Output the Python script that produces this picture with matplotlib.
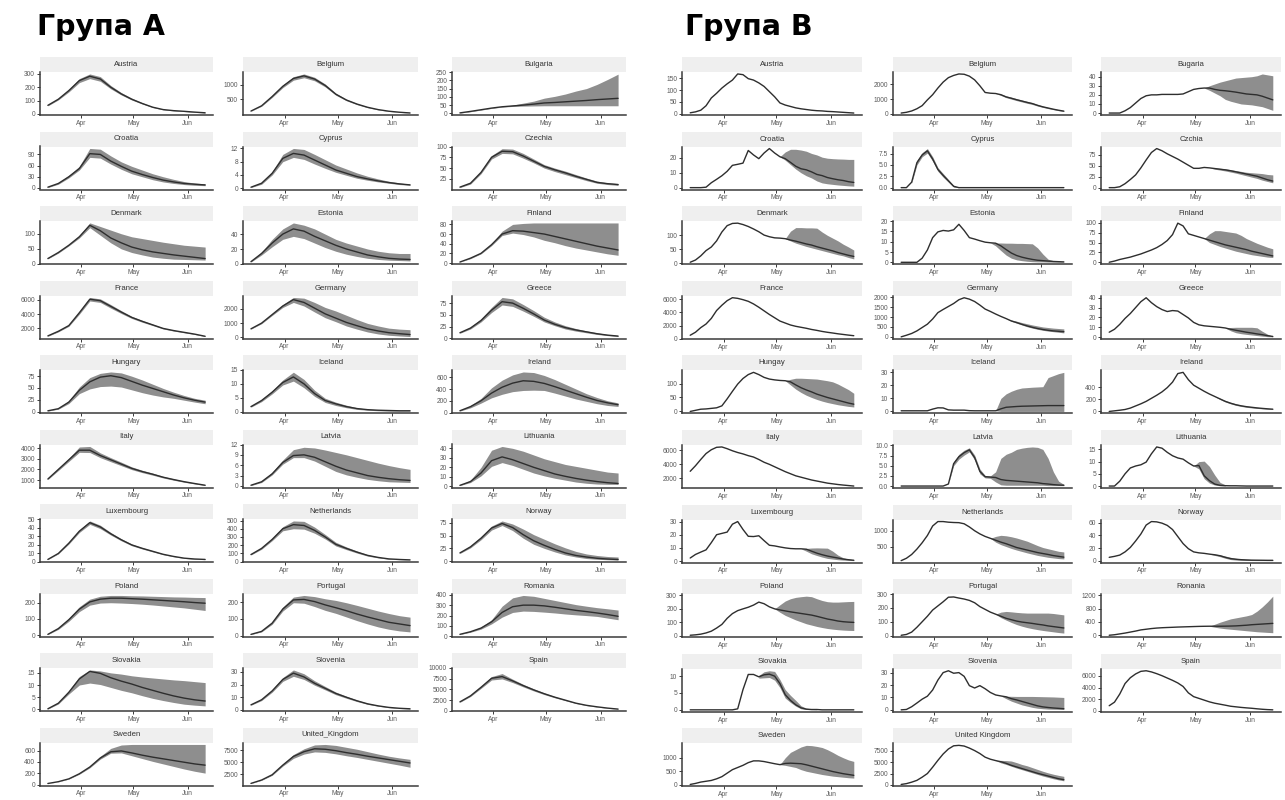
import numpy as np
import matplotlib
matplotlib.use("Agg")
import matplotlib.pyplot as plt
import matplotlib.dates as mdates

nan = float("nan")

# ---------------- Group A (model fits, samples every 6 days from 13 Mar) -------------
A_countries = ["Austria", "Belgium", "Bulgaria", "Croatia", "Cyprus", "Czechia", "Denmark", "Estonia",
               "Finland", "France", "Germany", "Greece", "Hungary", "Iceland", "Ireland", "Italy",
               "Latvia", "Lithuania", "Luxembourg", "Netherlands", "Norway", "Poland", "Portugal",
               "Romania", "Slovakia", "Slovenia", "Spain", "Sweden", "United_Kingdom"]
A_days = list(range(0, 91, 6))

A_mean = [
    [64, 110, 175, 250, 283, 262, 200, 150, 110, 78, 50, 32, 24, 19, 13, 8],
    [100, 280, 600, 950, 1220, 1310, 1200, 980, 680, 480, 340, 230, 150, 95, 60, 35],
    [3, 12, 22, 32, 40, 45, 50, 56, 63, 66, 70, 74, 78, 83, 87, 91],
    [2, 12, 30, 52, 92, 90, 72, 58, 45, 36, 28, 21, 16, 12, 10, 8],
    [0.3, 1.5, 4.5, 9, 10.5, 10, 8.5, 7, 5.5, 4.5, 3.5, 2.8, 2.2, 1.7, 1.3, 1.0],
    [6, 15, 40, 75, 89, 88, 78, 66, 54, 46, 39, 31, 24, 17, 14, 12],
    [18, 38, 62, 90, 128, 110, 86, 70, 56, 47, 40, 35, 30, 26, 22, 18],
    [3, 14, 28, 40, 47, 44, 37, 31, 25, 20, 16, 12, 9.5, 7.5, 6.5, 6],
    [2, 10, 20, 38, 60, 67, 66, 63, 60, 55, 50, 45, 40, 35, 31, 27],
    [950, 1600, 2400, 4200, 6100, 5900, 5100, 4300, 3550, 3000, 2500, 2000, 1700, 1450, 1200, 900],
    [600, 1000, 1600, 2200, 2650, 2450, 2050, 1650, 1350, 1050, 820, 600, 450, 330, 260, 200],
    [12, 22, 38, 60, 78, 75, 64, 52, 39, 30, 23, 18, 14, 10, 7, 5],
    [1.5, 6, 20, 45, 63, 73, 76, 72, 64, 56, 49, 42, 35, 29, 24, 20],
    [1.8, 4, 7, 10.5, 12.5, 10, 6.5, 4, 2.8, 1.8, 1.1, 0.7, 0.5, 0.4, 0.3, 0.3],
    [30, 100, 200, 330, 430, 500, 540, 530, 495, 440, 380, 320, 260, 205, 165, 133],
    [1100, 2000, 2900, 3800, 3800, 3300, 2900, 2500, 2100, 1800, 1550, 1270, 1050, 850, 680, 520],
    [0.2, 1.2, 3.5, 6.8, 8.8, 9, 8.3, 7, 5.7, 4.6, 3.8, 3, 2.5, 2.1, 1.8, 1.6],
    [1, 5, 14, 27, 31, 28, 24, 20, 16.5, 13, 10.5, 8.3, 6.5, 5, 3.8, 3],
    [3, 10, 22, 36, 46, 41, 33, 26, 20, 16, 12.5, 9, 6.5, 4.5, 3.5, 3],
    [85, 160, 270, 400, 450, 440, 380, 300, 210, 160, 115, 75, 50, 32, 25, 20],
    [16, 28, 45, 65, 74, 66, 52, 40, 31, 23, 16, 11, 8, 5.5, 4, 3],
    [4, 40, 95, 160, 205, 222, 228, 228, 225, 222, 218, 214, 210, 206, 201, 197],
    [7, 25, 75, 160, 215, 218, 205, 185, 168, 150, 130, 112, 96, 80, 70, 60],
    [20, 45, 80, 140, 230, 285, 300, 300, 293, 280, 265, 250, 238, 225, 210, 193],
    [0.2, 2.5, 7, 12.5, 15.6, 14.8, 13, 11.6, 10.4, 9, 7.8, 6.6, 5.5, 4.6, 3.9, 3.4],
    [4, 8, 15, 24, 29, 26, 21, 17, 13, 10, 7.2, 4.8, 3.2, 2, 1.3, 0.9],
    [2100, 3500, 5500, 7600, 8000, 7000, 5900, 4900, 4000, 3200, 2500, 1800, 1300, 950, 650, 420],
    [18, 50, 100, 190, 310, 470, 580, 595, 560, 520, 485, 455, 425, 395, 365, 343],
    [600, 1300, 2400, 4400, 6200, 7200, 7800, 7700, 7400, 7000, 6650, 6250, 5900, 5550, 5200, 4850],
]
A_lo = [
    [60, 105, 165, 235, 265, 245, 188, 142, 104, 74, 47, 30, 22, 17, 11, 6],
    [95, 265, 570, 905, 1160, 1245, 1140, 930, 645, 455, 320, 215, 140, 88, 55, 32],
    [2, 10, 20, 30, 38, 42, 44, 45, 46, 46, 46, 46, 46, 46, 46, 46],
    [1, 10, 27, 48, 82, 80, 64, 50, 38, 30, 22, 16, 12, 9, 7, 6],
    [0.2, 1.2, 4, 8, 9.3, 8.7, 7.3, 6, 4.8, 3.9, 3.0, 2.4, 1.9, 1.5, 1.1, 0.9],
    [5, 13, 37, 71, 84, 83, 73, 62, 50, 42, 35, 28, 21, 15, 12, 10],
    [17, 36, 60, 86, 120, 95, 70, 50, 38, 30, 23, 19, 16, 15, 14, 13],
    [2.5, 12, 23, 33, 37, 34, 28, 22, 17, 13, 10, 7.5, 6, 5, 4.5, 4],
    [2, 9, 19, 36, 57, 62, 59, 54, 47, 42, 36, 31, 27, 23, 19, 16],
    [900, 1520, 2300, 4000, 5850, 5650, 4850, 4100, 3400, 2870, 2400, 1920, 1630, 1390, 1150, 860],
    [580, 960, 1540, 2100, 2450, 2200, 1780, 1380, 1100, 800, 580, 380, 240, 150, 100, 60],
    [11, 20, 35, 55, 71, 68, 58, 47, 35, 27, 20, 15.5, 12, 8.5, 6, 4],
    [1, 5, 17, 38, 48, 53, 54, 52, 46, 40, 35, 31, 28, 24, 20, 16.5],
    [1.6, 3.6, 6.4, 9.6, 11, 8.6, 5.5, 3.3, 2.2, 1.4, 0.8, 0.5, 0.3, 0.2, 0.2, 0.2],
    [25, 80, 160, 250, 310, 355, 375, 380, 375, 330, 280, 230, 190, 150, 120, 103],
    [1050, 1900, 2750, 3600, 3580, 3100, 2720, 2350, 1980, 1700, 1460, 1200, 990, 800, 640, 490],
    [0.1, 1, 3.2, 6.3, 8.2, 8.2, 7.2, 5.7, 4.2, 3.2, 2.5, 1.9, 1.5, 1.2, 1.1, 1.0],
    [0.8, 4, 11, 21, 25, 22, 18, 14, 11, 8.5, 6.5, 4.5, 3.2, 2.4, 2.1, 2],
    [2.8, 9.5, 21, 34.5, 44, 39, 31.5, 24.8, 19, 15.2, 11.8, 8.5, 6.1, 4.2, 3.2, 2.8],
    [80, 150, 255, 375, 400, 395, 345, 275, 190, 145, 103, 66, 44, 28, 22, 18],
    [15, 26, 42, 61, 70, 60, 45, 33, 25, 18, 12, 8, 5, 3.5, 2.6, 2],
    [3, 35, 85, 145, 185, 198, 200, 198, 195, 191, 186, 180, 174, 168, 160, 152],
    [6, 22, 68, 148, 198, 195, 175, 152, 134, 112, 90, 70, 52, 38, 28, 22],
    [18, 40, 70, 120, 185, 230, 243, 240, 233, 225, 215, 207, 200, 192, 176, 160],
    [0.1, 2.2, 6.3, 10, 10.8, 10.2, 9, 7.8, 6.8, 5.6, 4.5, 3.6, 2.8, 2.1, 1.7, 1.4],
    [3.7, 7.4, 14, 22.5, 26.5, 24, 19.5, 15.8, 12, 9.2, 6.6, 4.4, 2.9, 1.8, 1.1, 0.7],
    [2000, 3350, 5250, 7200, 7450, 6600, 5600, 4650, 3800, 3050, 2380, 1710, 1230, 900, 610, 390],
    [17, 48, 96, 182, 296, 450, 555, 560, 510, 460, 410, 365, 320, 275, 235, 202],
    [570, 1240, 2280, 4200, 5800, 6700, 7150, 7050, 6750, 6350, 6000, 5600, 5200, 4800, 4400, 3960],
]
A_hi = [
    [68, 115, 185, 265, 300, 280, 213, 160, 118, 84, 54, 35, 27, 21, 15, 10],
    [105, 295, 630, 995, 1280, 1375, 1260, 1030, 715, 505, 360, 245, 160, 102, 65, 38],
    [4, 14, 24, 34, 42, 50, 62, 74, 92, 103, 117, 135, 150, 175, 205, 237],
    [3, 14, 34, 58, 106, 104, 86, 70, 58, 48, 38, 30, 23, 17, 13, 11],
    [0.4, 1.8, 5, 10.2, 12, 11.7, 10.2, 8.6, 7, 5.8, 4.6, 3.6, 2.8, 2.1, 1.6, 1.2],
    [7, 17, 43, 79, 95, 94, 84, 71, 58, 50, 43, 35, 27, 20, 16, 14],
    [19, 40, 64, 94, 136, 124, 112, 100, 90, 84, 78, 72, 67, 62, 59, 56],
    [3.5, 16, 33, 47, 55, 52, 47, 40, 33, 28, 24, 20, 17, 15, 14, 14],
    [2, 11, 21, 40, 66, 80, 82, 83, 83, 83, 83, 83, 83, 83, 83, 83],
    [1000, 1680, 2500, 4400, 6350, 6150, 5350, 4500, 3700, 3130, 2600, 2080, 1770, 1510, 1250, 940],
    [620, 1040, 1660, 2300, 2800, 2750, 2450, 2100, 1850, 1550, 1250, 980, 800, 650, 580, 540],
    [13, 24, 42, 66, 87, 84, 72, 59, 45, 35, 27, 21, 16, 12, 8.5, 6],
    [2, 7, 23, 52, 72, 81, 84, 82, 75, 67, 58, 49, 41, 34, 28, 24],
    [2, 4.4, 7.6, 11.4, 14.2, 11.6, 7.7, 4.8, 3.4, 2.3, 1.4, 0.9, 0.7, 0.6, 0.5, 0.5],
    [35, 120, 240, 420, 550, 640, 690, 680, 630, 560, 480, 400, 320, 255, 200, 164],
    [1150, 2100, 3050, 4100, 4150, 3550, 3100, 2680, 2240, 1920, 1650, 1350, 1120, 910, 730, 560],
    [0.3, 1.4, 4, 7.5, 10.5, 11.2, 11, 10.4, 9.7, 9, 8.2, 7.4, 6.6, 5.9, 5.3, 4.8],
    [1.2, 6.5, 20, 38, 42, 40, 37, 33, 29, 26, 23, 21, 19, 17, 15, 14],
    [3.2, 10.5, 23, 37.5, 48, 43, 34.5, 27.2, 21, 16.8, 13.2, 9.5, 6.9, 4.8, 3.8, 3.2],
    [90, 170, 285, 425, 495, 490, 420, 330, 235, 178, 128, 84, 56, 36, 28, 22],
    [17, 30, 48, 69, 79, 73, 63, 52, 43, 34, 26, 19, 14, 11, 9, 8],
    [5, 45, 105, 175, 222, 240, 245, 245, 243, 242, 240, 238, 236, 235, 233, 232],
    [8, 28, 82, 172, 232, 242, 235, 222, 212, 198, 182, 165, 148, 133, 120, 111],
    [22, 50, 90, 160, 290, 370, 393, 385, 365, 345, 325, 305, 290, 276, 265, 253],
    [0.3, 2.8, 7.7, 13.5, 16.2, 15.8, 15, 14.5, 13.8, 13.3, 12.9, 12.5, 12.1, 11.8, 11.4, 11],
    [4.3, 8.6, 16, 25.5, 31.5, 28.5, 23, 18.5, 14.1, 10.8, 7.8, 5.3, 3.6, 2.3, 1.5, 1.1],
    [2200, 3650, 5750, 8000, 8700, 7400, 6200, 5150, 4200, 3350, 2620, 1890, 1370, 1000, 690, 450],
    [19, 52, 104, 198, 324, 500, 640, 700, 710, 710, 710, 710, 710, 710, 710, 710],
    [630, 1360, 2520, 4600, 6600, 7800, 8600, 8700, 8500, 8100, 7700, 7200, 6700, 6250, 5900, 5600],
]
A_yticks = [
    [0, 100, 200, 300], [500, 1000], [0, 50, 100, 150, 200, 250],
    [0, 30, 60, 90], [0, 4, 8, 12], [25, 50, 75, 100],
    [0, 50, 100], [0, 20, 40], [0, 20, 40, 60, 80],
    [2000, 4000, 6000], [0, 1000, 2000], [0, 25, 50, 75],
    [0, 25, 50, 75], [0, 5, 10, 15], [0, 200, 400, 600],
    [1000, 2000, 3000, 4000], [0, 3, 6, 9, 12], [0, 10, 20, 30, 40],
    [0, 10, 20, 30, 40, 50], [0, 100, 200, 300, 400, 500], [0, 25, 50, 75],
    [0, 100, 200], [0, 100, 200], [0, 100, 200, 300, 400],
    [0, 5, 10, 15], [0, 10, 20, 30], [0, 2500, 5000, 7500, 10000],
    [0, 200, 400, 600], [2500, 5000, 7500],
]

# ---------------- Group B (observed + forecast, samples every 3 days from 13 Mar) -------------
B_countries = ["Austria", "Belgium", "Bugaria", "Croatia", "Cyprus", "Czchia", "Denmark", "Estonia",
               "Finland", "France", "Germany", "Greece", "Hungay", "Iceland", "Ireland", "Italy",
               "Latvia", "Lithuania", "Luxembourg", "Netherlands", "Norway", "Poland", "Portugal",
               "Ronania", "Slovakia", "Slovenia", "Spain", "Sweden", "United Kingdom"]
B_days = list(range(0, 94, 3))

B_mean = [
    [4, 8, 15, 34, 67, 87, 109, 127, 143, 169, 166, 149, 143, 131, 116, 94, 72, 46, 37, 31, 25, 21, 18, 15, 13, 12, 10, 9, 7.5, 6, 4.5, 3],
    [60, 110, 200, 350, 560, 950, 1300, 1750, 2150, 2450, 2600, 2700, 2680, 2550, 2300, 1900, 1450, 1400, 1380, 1300, 1150, 1060, 960, 870, 780, 700, 580, 480, 400, 320, 250, 190],
    [0, 0, 0, 2.5, 6, 11, 16, 19, 20, 20, 20.5, 20.5, 20.5, 20.5, 21, 23.5, 26, 27, 27.5, 27.5, 26, 25, 24.5, 23.8, 23, 22, 21, 20.5, 20, 18.5, 16.5, 14.5],
    [0, 0, 0, 0.3, 3.3, 5.6, 8, 11, 15, 15.7, 16.5, 25, 22, 19.5, 23.3, 26.3, 23.3, 20.8, 19.5, 17, 14.4, 12.7, 12, 10.6, 8.9, 8.1, 6.8, 6, 5.3, 4.8, 4, 3.5],
    [0, 0, 1.2, 5.5, 7.2, 8.1, 6.3, 4, 2.7, 1.5, 0.3, 0, 0, 0, 0, 0, 0, 0, 0, 0, 0, 0, 0, 0, 0, 0, 0, 0, 0, 0, 0, 0],
    [0, 0, 2, 9, 18.5, 29, 45, 63, 80, 89, 84, 77, 71, 65, 58, 51, 44, 44, 46, 45, 43.5, 42, 40.5, 38.5, 36, 33.5, 31, 28.5, 26, 22, 18, 15],
    [3, 11, 26, 45, 58, 80, 112, 135, 143, 144, 139, 132, 123, 113, 101, 95, 91, 90, 88, 83, 79, 74, 69, 65, 59, 54, 49, 44, 38, 33, 28, 24],
    [0, 0, 0, 0, 2, 6, 12, 14.8, 15.5, 15.2, 15.8, 18.5, 15.5, 12, 11.3, 10.5, 9.8, 9.5, 9.3, 8, 6.2, 4.5, 3.3, 2.5, 1.9, 1.4, 1.0, 0.8, 0.6, 0.4, 0.3, 0.2],
    [0, 3, 7, 10, 13, 17, 21, 26, 31, 37, 45, 55, 70, 99, 92, 72, 68, 64, 60, 56, 52, 48, 44, 41, 38, 35, 32, 28, 25, 22, 19, 16],
    [540, 1000, 1700, 2250, 3100, 4300, 5100, 5800, 6250, 6150, 5950, 5700, 5300, 4800, 4250, 3700, 3200, 2700, 2400, 2100, 1900, 1750, 1600, 1420, 1280, 1120, 990, 880, 760, 660, 560, 470],
    [0, 80, 170, 300, 470, 640, 900, 1220, 1380, 1530, 1680, 1870, 1970, 1900, 1780, 1600, 1400, 1280, 1150, 1030, 920, 800, 720, 630, 550, 480, 420, 370, 330, 300, 280, 260],
    [5, 8, 13, 19, 24, 30, 36, 40, 35, 31, 28, 26, 27, 26.5, 23, 19.5, 15, 12.5, 11.5, 11, 10.5, 10, 9.3, 8, 7, 6, 5, 4.2, 3.3, 2.5, 1.5, 0.7],
    [0, 4, 8, 9, 11, 13, 20, 45, 72, 98, 118, 132, 140, 132, 122, 116, 113, 111, 110, 106, 95, 85, 77, 70, 62, 56, 50, 45, 40, 35, 30, 26],
    [0.5, 0.5, 0.5, 0.5, 0.5, 0.5, 1.8, 2.8, 2.7, 1.2, 1, 1, 1, 0.6, 0.5, 0.5, 0.5, 0.5, 0.5, 2, 3.2, 3.5, 3.8, 4, 4.1, 4.2, 4.3, 4.4, 4.5, 4.5, 4.5, 4.5],
    [0, 10, 20, 32, 55, 90, 125, 165, 215, 265, 320, 390, 480, 620, 640, 520, 430, 380, 330, 285, 245, 205, 165, 135, 110, 92, 78, 68, 58, 50, 43, 37],
    [3000, 3800, 4700, 5550, 6100, 6450, 6500, 6250, 5950, 5700, 5500, 5250, 5050, 4700, 4300, 4000, 3650, 3300, 2950, 2650, 2350, 2150, 1950, 1750, 1600, 1450, 1300, 1200, 1100, 1020, 950, 880],
    [0, 0, 0, 0, 0, 0, 0, 0, 0, 0.5, 5.5, 7.2, 8.2, 8.9, 7, 3.6, 2.3, 2.2, 2.1, 1.6, 1.4, 1.3, 1.2, 1.1, 1.0, 0.9, 0.8, 0.6, 0.5, 0.35, 0.25, 0.2],
    [0, 0, 2, 5, 7.4, 8.2, 8.7, 9.8, 13.2, 16, 15.5, 13.8, 12.4, 11.5, 11, 9.5, 8.2, 8.4, 4.2, 2.2, 0.8, 0.3, 0.15, 0.1, 0.1, 0.05, 0, 0, 0, 0, 0, 0],
    [2.3, 5, 6.8, 8.5, 14, 20, 21, 22, 28, 30, 24, 18.8, 18.6, 19.2, 15.5, 12, 11.5, 10.7, 10, 9.5, 9.3, 9.3, 9, 7.5, 6, 4.8, 3.8, 3, 2.3, 1.5, 1, 0.6],
    [55, 130, 250, 420, 620, 850, 1150, 1290, 1290, 1270, 1260, 1255, 1220, 1120, 1000, 900, 820, 760, 700, 640, 590, 530, 470, 430, 390, 350, 310, 280, 250, 215, 190, 165],
    [5.5, 7, 9, 14, 21, 31, 42, 56, 61.5, 61, 59, 55.5, 49, 38, 27, 19, 14, 12.5, 11.7, 10.5, 9.5, 8, 5.5, 3.5, 2.5, 1.8, 1.4, 1.1, 1, 0.9, 0.8, 0.8],
    [5, 8, 13, 22, 35, 58, 85, 130, 165, 187, 200, 212, 228, 250, 238, 215, 200, 192, 185, 178, 172, 166, 160, 154, 145, 135, 125, 118, 110, 105, 102, 100],
    [2, 8, 25, 60, 100, 140, 185, 215, 245, 278, 280, 272, 265, 255, 238, 210, 190, 170, 155, 140, 125, 115, 105, 98, 93, 88, 82, 77, 70, 65, 60, 55],
    [0, 15, 40, 65, 95, 125, 160, 180, 200, 215, 225, 232, 238, 245, 250, 255, 260, 265, 268, 270, 270, 270, 272, 275, 280, 290, 300, 315, 325, 335, 345, 355],
    [0, 0, 0, 0, 0, 0, 0, 0, 0, 0.3, 6, 10.5, 10.5, 9.8, 10.4, 10.6, 10, 7.8, 4.5, 2.8, 1.5, 0.6, 0.2, 0.1, 0.1, 0, 0, 0, 0, 0, 0, 0],
    [0, 0.3, 2.5, 5.5, 8.6, 11, 16, 24, 30, 31.5, 29.5, 30, 27, 19.5, 17.6, 19.5, 17, 14, 12, 11.2, 10.5, 9, 8, 6.8, 5.6, 4.4, 3.2, 2.4, 1.9, 1.5, 1.2, 0.9],
    [890, 1500, 2900, 4700, 5700, 6350, 6800, 6900, 6700, 6400, 6050, 5650, 5250, 4800, 4200, 3100, 2450, 2150, 1850, 1550, 1320, 1150, 980, 800, 700, 600, 520, 450, 360, 280, 220, 180],
    [12, 50, 100, 130, 160, 220, 300, 430, 560, 640, 720, 820, 885, 885, 860, 820, 780, 745, 790, 800, 790, 780, 740, 690, 640, 590, 540, 490, 450, 410, 380, 350],
    [100, 280, 600, 1000, 1700, 2500, 3900, 5400, 6800, 7900, 8600, 8700, 8550, 8100, 7550, 6900, 6100, 5650, 5350, 5100, 4750, 4300, 3950, 3600, 3250, 2900, 2550, 2250, 1950, 1650, 1350, 1150],
]
# forecast band: first day (days after 13 Mar) and lower / upper values every 3 days from there
B_band_start = [None, 54, 54, 51, 6, 57, 54, 51, 54, None, 60, 66, 54, 54, 60, None, 27, 48, 63, 51,
                57, 48, 54, 57, 39, 57, None, 51, 54]
B_lo = [
    [],
    [1380, 1250, 1100, 1000, 900, 810, 720, 640, 530, 440, 360, 290, 220, 165],
    [27.5, 25, 22, 19, 15, 13, 11.5, 10, 9.5, 9, 8, 7, 5, 3],
    [20.8, 18.5, 15.5, 12.5, 10, 8, 6.5, 4.5, 3.2, 2.6, 2.2, 1.8, 1.5, 1.2, 1],
    [1.0, 5.0, 6.8, 7.6, 5.8, 3.6, 2.3, 1.2, 0.1, 0],
    [45, 42, 40, 38, 35.5, 33, 30, 27, 24, 21, 17, 14, 11],
    [88, 80, 72, 66, 60, 55, 50, 45, 40, 35, 30, 26, 20, 15],
    [9.5, 8, 5.7, 3.5, 2, 1.2, 0.8, 0.5, 0.3, 0.2, 0.2, 0.1, 0.1, 0.1, 0.1],
    [60, 50, 45, 40, 36, 32, 28, 25, 22, 19, 17, 15, 13, 12],
    [],
    [920, 780, 690, 600, 510, 440, 380, 330, 290, 260, 230, 200],
    [9.3, 6.5, 4.5, 3.5, 2.8, 2.2, 1.6, 1.0, 0.5, 0.3],
    [110, 95, 80, 68, 58, 50, 43, 37, 32, 28, 24, 21, 18, 16],
    [0.5, 0, 0, 0, 0, 0, 0, 0, 0, 0, 0, 0, 0, 0],
    [245, 195, 155, 125, 100, 82, 68, 58, 50, 43, 37, 32],
    [],
    [0.5, 5.0, 6.6, 7.6, 8.4, 6.4, 3.0, 2.0, 1.9, 1.0, 0.3, 0.2, 0.2, 0.2, 0.2, 0.2, 0.2, 0.2, 0.2, 0.1, 0.1, 0.1, 0.1],
    [8.2, 7, 3, 1.2, 0.4, 0.1, 0.05],
    [9.3, 7.5, 5.5, 4.2, 3, 2, 1.5, 1, 0.7, 0.5, 0.3],
    [760, 640, 560, 500, 440, 390, 345, 300, 260, 220, 190, 160, 140, 120, 110],
    [10.5, 8.5, 6.5, 4, 2, 1.2, 0.8, 0.6, 0.5, 0.4, 0.4, 0.3, 0.3],
    [200, 175, 152, 135, 118, 104, 90, 80, 70, 62, 55, 50, 46, 43, 41, 40],
    [155, 130, 112, 95, 80, 68, 58, 50, 43, 37, 32, 27, 22, 18],
    [270, 240, 215, 195, 180, 165, 150, 135, 120, 105, 95, 85, 76],
    [9.4, 9.5, 9.6, 8.8, 6.6, 3.5, 2.2, 1.1, 0.3, 0.1, 0.05, 0],
    [11.2, 9, 7, 5.5, 4, 3, 2, 1.3, 0.9, 0.6, 0.5, 0.4, 0.3],
    [],
    [745, 720, 680, 640, 560, 500, 460, 420, 380, 350, 320, 300, 280, 260, 247],
    [5350, 4850, 4500, 4100, 3700, 3350, 3000, 2650, 2300, 1950, 1650, 1350, 1100, 900],
]
B_hi = [
    [],
    [1380, 1350, 1220, 1130, 1030, 940, 850, 760, 640, 530, 440, 360, 290, 220],
    [27.5, 30, 32, 34, 35.5, 37, 38.5, 39, 39.5, 40, 41, 43, 42, 41],
    [20.8, 24, 25.8, 25.8, 25.3, 24.5, 23, 22, 20.5, 19.8, 19.5, 19.3, 19.2, 19, 19],
    [1.4, 6.0, 7.7, 8.6, 6.8, 4.4, 3.1, 1.8, 0.5, 0],
    [45, 45, 44, 43, 41, 39, 37, 35, 34, 33, 32, 30, 29],
    [88, 115, 128, 128, 127, 127, 126, 112, 100, 90, 80, 68, 58, 47],
    [9.5, 9.4, 9.4, 9.3, 9.3, 9.2, 9.2, 9.1, 9.0, 7, 4, 1.5, 0.8, 0.5, 0.3],
    [60, 72, 80, 80, 78, 76, 74, 68, 60, 54, 48, 43, 38, 34],
    [],
    [920, 850, 790, 720, 660, 600, 550, 500, 470, 440, 420, 400],
    [9.3, 9.8, 10, 10, 10, 10, 9.5, 6, 3, 0.8],
    [110, 115, 119, 119, 118, 117, 116, 113, 110, 106, 98, 88, 78, 65],
    [0.5, 10, 13.5, 15.5, 17, 18, 18.3, 18.6, 18.8, 19, 26, 27.5, 29, 30],
    [245, 215, 180, 150, 125, 105, 90, 78, 68, 58, 50, 42],
    [],
    [0.5, 6.0, 7.8, 8.8, 9.4, 7.6, 4.2, 2.6, 2.5, 3.5, 6.8, 7.8, 8.3, 9.0, 9.3, 9.5, 9.6, 9.5, 9.0, 6.8, 3.5, 1.2, 0.4],
    [8.2, 10, 10.2, 8, 4.5, 1.5, 0.5],
    [9.3, 9.6, 9.9, 10, 9.9, 9.8, 7.5, 4.5, 2.5, 1.5, 1],
    [760, 820, 855, 840, 810, 770, 720, 670, 600, 530, 470, 430, 390, 350, 330],
    [10.5, 10.5, 9.5, 7.5, 5.5, 4, 3, 2.5, 2, 1.8, 1.5, 1.4, 1.3],
    [200, 230, 258, 275, 285, 290, 294, 290, 275, 262, 253, 250, 250, 252, 254, 255],
    [155, 170, 175, 172, 168, 165, 163, 163, 163, 163, 163, 160, 155, 150],
    [270, 330, 390, 440, 490, 520, 550, 580, 620, 720, 850, 1000, 1170],
    [10.2, 11.3, 11.6, 11.4, 9, 6, 4.3, 2.8, 1.2, 0.5, 0.3, 0.2],
    [11.2, 11, 10.9, 10.8, 10.8, 10.8, 10.8, 10.7, 10.6, 10.5, 10.4, 10.2, 10],
    [],
    [745, 1000, 1200, 1300, 1400, 1460, 1450, 1420, 1380, 1300, 1200, 1090, 1000, 920, 865],
    [5350, 5400, 5350, 5250, 4900, 4500, 4200, 3800, 3400, 3000, 2650, 2350, 2100, 1880],
]
B_yticks = [
    [0, 50, 100, 150], [0, 1000, 2000], [0, 10, 20, 30, 40],
    [0, 10, 20], [0, 2.5, 5, 7.5], [0, 25, 50, 75],
    [0, 50, 100], [0, 5, 10, 15, 20], [0, 25, 50, 75, 100],
    [0, 2000, 4000, 6000], [0, 500, 1000, 1500, 2000], [0, 10, 20, 30, 40],
    [0, 50, 100], [0, 10, 20, 30], [0, 200, 400],
    [2000, 4000, 6000], [0, 2.5, 5, 7.5, 10], [0, 5, 10, 15],
    [0, 10, 20, 30], [500, 1000], [0, 20, 40, 60],
    [0, 100, 200, 300], [0, 100, 200, 300], [0, 400, 800, 1200],
    [0, 5, 10], [0, 10, 20, 30], [0, 2000, 4000, 6000],
    [0, 500, 1000], [0, 2500, 5000, 7500],
]

# ---------------- layout / style ----------------
W, H = 1285, 800
BASE = np.datetime64("2020-03-13")
MONTHS = [np.datetime64("2020-04-01"), np.datetime64("2020-05-01"), np.datetime64("2020-06-01")]
STRIP_H, PLOT_H = 15, 43
LINE_C, BAND_C, AXIS_C, TEXT_C = "#2e2e2e", "#8e8e8e", "#3a3a3a", "#5a5a5a"

A_cols = [(40, 213), (243, 418), (452, 626)]
B_cols = [(682, 862), (893, 1072), (1101, 1281)]
A_row0, A_pitch = 57, 74.5
B_row0, B_pitch = 57, 74.6

fig = plt.figure(figsize=(W / 100, H / 100), dpi=100)


def px_axes(x0, y0, x1, y1):
    return fig.add_axes([x0 / W, 1 - y1 / H, (x1 - x0) / W, (y1 - y0) / H])


def to_dates(days):
    return BASE + np.array(days, dtype="timedelta64[D]")


def draw_panel(x0, x1, ys, name, days, mean, band_days, lo, hi, yticks, span):
    sax = px_axes(x0, ys, x1, ys + STRIP_H)
    sax.set_facecolor("#efefef")
    sax.set_xticks([])
    sax.set_yticks([])
    for s in sax.spines.values():
        s.set_visible(False)
    sax.text(0.5, 0.5, name, ha="center", va="center", fontsize=5.6, color="#333333",
             family="Liberation Sans")

    ax = px_axes(x0, ys + STRIP_H, x1, ys + STRIP_H + PLOT_H)
    if band_days is not None and len(lo):
        ax.fill_between(to_dates(band_days), lo, hi, color=BAND_C, lw=0)
    ax.plot(to_dates(days), mean, color=LINE_C, lw=1.0, solid_capstyle="round",
            solid_joinstyle="round")

    vals = np.array(list(mean) + list(lo) + list(hi), dtype=float)
    vals = vals[np.isfinite(vals)]
    vmin, vmax = vals.min(), vals.max()
    r = vmax - vmin
    ax.set_ylim(vmin - 0.05 * r, vmax + 0.05 * r)
    pad = 0.05 * span
    ax.set_xlim(BASE - np.timedelta64(int(round(pad * 24)), "h"),
                BASE + np.timedelta64(int(round((span + pad) * 24)), "h"))

    ax.set_xticks(MONTHS)
    ax.xaxis.set_major_formatter(mdates.DateFormatter("%b"))
    ax.set_yticks(yticks)
    if any(float(t) != int(t) for t in yticks):
        ax.set_yticklabels(["%.1f" % t for t in yticks])
    else:
        ax.set_yticklabels([str(int(t)) for t in yticks])

    for side in ("top", "right"):
        ax.spines[side].set_visible(False)
    for side in ("left", "bottom"):
        ax.spines[side].set_color(AXIS_C)
        ax.spines[side].set_linewidth(1.1)
    ax.tick_params(axis="both", length=2, width=0.7, color=AXIS_C, labelsize=4.8,
                   labelcolor=TEXT_C, pad=1.5)
    for lab in ax.get_xticklabels() + ax.get_yticklabels():
        lab.set_family("Liberation Sans")
    ax.set_facecolor("white")


# Group A
for i, name in enumerate(A_countries):
    assert len(A_mean[i]) == len(A_days) == len(A_lo[i]) == len(A_hi[i]), name
    r, c = divmod(i, 3)
    x0, x1 = A_cols[c]
    draw_panel(x0, x1, A_row0 + A_pitch * r, name, A_days, A_mean[i], A_days,
               A_lo[i], A_hi[i], A_yticks[i], A_days[-1])

# Group B
for i, name in enumerate(B_countries):
    assert len(B_mean[i]) == len(B_days), name
    assert len(B_lo[i]) == len(B_hi[i]), name
    r, c = divmod(i, 3)
    x0, x1 = B_cols[c]
    start = B_band_start[i]
    bdays = None if start is None else [start + 3 * k for k in range(len(B_lo[i]))]
    draw_panel(x0, x1, B_row0 + B_pitch * r, name, B_days, B_mean[i], bdays,
               B_lo[i], B_hi[i], B_yticks[i], B_days[-1])

fig.text(37 / W, 1 - 27 / H, "Група А", fontsize=20.5, fontweight="bold",
         family="DejaVu Sans", ha="left", va="center", color="black")
fig.text(685 / W, 1 - 27 / H, "Група В", fontsize=20.5, fontweight="bold",
         family="DejaVu Sans", ha="left", va="center", color="black")

fig.savefig("out.png", dpi=100, facecolor="white")
